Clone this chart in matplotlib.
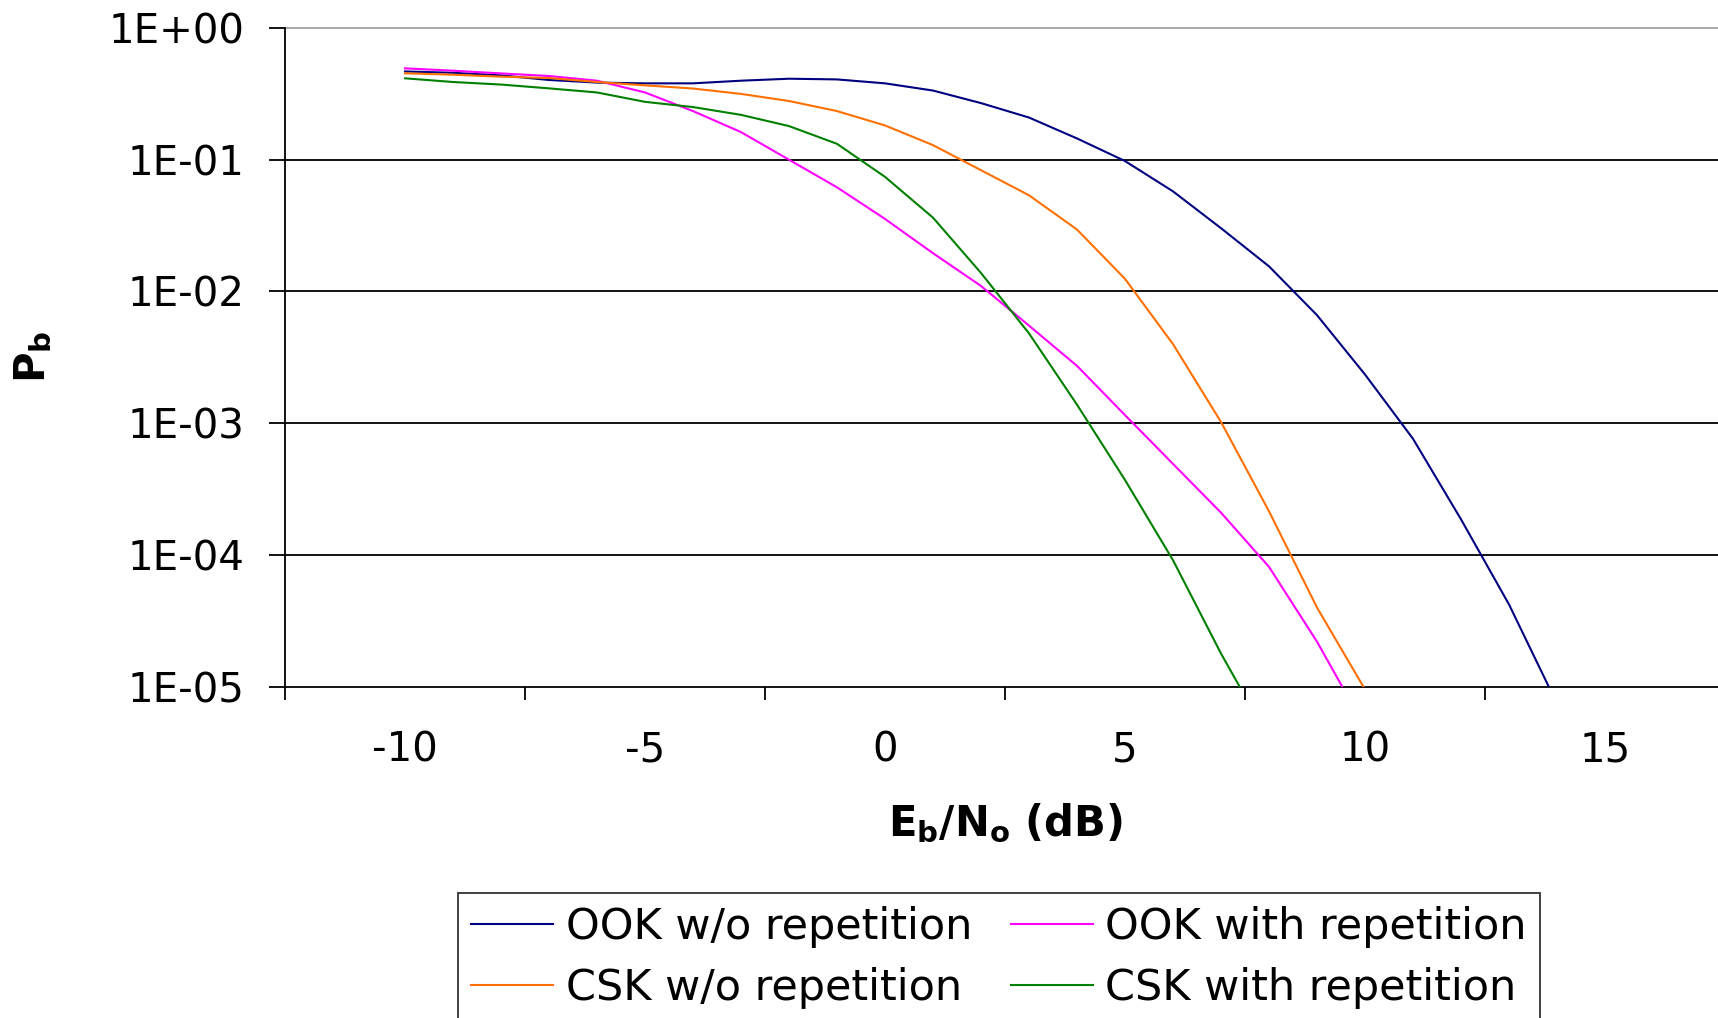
import numpy as np
import matplotlib
matplotlib.use("Agg")
import matplotlib.pyplot as plt

# Eb/No grid (dB) shared by all curves; each series stops once it leaves the axis
EBNO_DB = list(range(-10, 15))

ook_wo = [0.468, 0.457, 0.437, 0.403, 0.385, 0.380, 0.380, 0.398, 0.412, 0.407,
          0.380, 0.335, 0.269, 0.209, 0.145, 0.0977, 0.0575, 0.0302, 0.0155,
          6.6e-3, 2.34e-3, 7.6e-4, 1.86e-4, 4.2e-5, 7.4e-6]
ook_rep = [0.494, 0.474, 0.452, 0.432, 0.398, 0.324, 0.234, 0.162, 0.100, 0.0617,
           0.0355, 0.0195, 0.011, 5.5e-3, 2.72e-3, 1.15e-3, 4.9e-4, 2.09e-4,
           8.1e-5, 2.19e-5, 4.9e-6]
csk_wo = [0.453, 0.442, 0.427, 0.417, 0.389, 0.367, 0.347, 0.316, 0.279, 0.234,
          0.182, 0.129, 0.0832, 0.0537, 0.0295, 0.01245, 3.98e-3, 1.02e-3,
          2.14e-4, 3.98e-5, 9.5e-6, 2.0e-6]
csk_rep = [0.415, 0.389, 0.372, 0.348, 0.324, 0.275, 0.251, 0.219, 0.180, 0.132,
           0.0741, 0.0363, 0.0138, 4.8e-3, 1.38e-3, 3.7e-4, 9.1e-5, 1.78e-5, 4.0e-6]

series = [
    ("OOK w/o repetition", ook_wo, "#000080"),
    ("OOK with repetition", ook_rep, "#FF00FF"),
    ("CSK w/o repetition", csk_wo, "#FF7000"),
    ("CSK with repetition", csk_rep, "#008000"),
]

y_ticks = [1e0, 1e-1, 1e-2, 1e-3, 1e-4, 1e-5]
y_labels = ["1E+00", "1E-01", "1E-02", "1E-03", "1E-04", "1E-05"]
x_label_pos = [-10, -5, 0, 5, 10, 15]
x_tick_pos = [-12.5, -7.5, -2.5, 2.5, 7.5, 12.5, 17.5]

plt.rcParams["font.family"] = ["DejaVu Sans"]
FS_TICK = 29
FS_LABEL = 30
FS_LEG = 31

W, H = 1718, 1018
fig = plt.figure(figsize=(W / 100, H / 100), dpi=100)
# plot area runs slightly past the right edge of the image, like the original
ax = fig.add_axes([285 / W, 1 - 686.5 / H, 1440 / W, 658.5 / H])

ax.set_yscale("log")
ax.set_ylim(1e-5, 1e0)
ax.set_xlim(-12.5, 17.5)

# horizontal gridlines at each decade; top one is lighter
for yv in y_ticks[1:-1]:
    ax.axhline(yv, color="black", lw=1.3, zorder=1)
ax.axhline(1e0, color="#a0a0a0", lw=1.3, zorder=1, clip_on=False)

lines = []
for name, vals, col in series:
    ln, = ax.plot(EBNO_DB[:len(vals)], vals, color=col, lw=1.5, label=name, zorder=3)
    lines.append(ln)

ax.set_yticks(y_ticks)
ax.set_yticklabels(y_labels)
ax.yaxis.set_minor_locator(matplotlib.ticker.NullLocator())
ax.tick_params(axis="y", which="major", direction="out", length=11.5, width=1.3,
               pad=18, labelsize=FS_TICK)

ax.set_xticks(x_tick_pos)
ax.set_xticklabels([""] * len(x_tick_pos))
ax.set_xticks(x_label_pos, minor=True)
ax.set_xticklabels([str(v) for v in x_label_pos], minor=True)
ax.tick_params(axis="x", which="major", direction="out", length=9.5, width=1.3)
ax.tick_params(axis="x", which="minor", length=0, pad=32, labelsize=FS_TICK)

for side in ("top", "right"):
    ax.spines[side].set_visible(False)
for side in ("left", "bottom"):
    ax.spines[side].set_linewidth(1.3)

ax.set_xlabel(r"E$_\mathbf{b}$/N$_\mathbf{o}$ (dB)", fontsize=FS_LABEL,
              fontweight="bold", labelpad=22)
fig.text(33 / W, 1 - 357 / H, r"P$_\mathbf{b}$", fontsize=FS_LABEL,
         fontweight="bold", rotation=90, ha="center", va="center")

leg = fig.legend(handles=[lines[0], lines[2], lines[1], lines[3]],
                 labels=[series[0][0], series[2][0], series[1][0], series[3][0]],
                 ncol=2, loc="upper left", bbox_to_anchor=(458 / W, 1 - 893 / H),
                 borderaxespad=0, fontsize=FS_LEG, frameon=True, fancybox=False,
                 edgecolor="black", handlelength=1.9, handletextpad=0.3,
                 columnspacing=0.9, labelspacing=0.45, borderpad=0.3)
leg.get_frame().set_linewidth(1.3)

fig.savefig("out.png", dpi=100)
